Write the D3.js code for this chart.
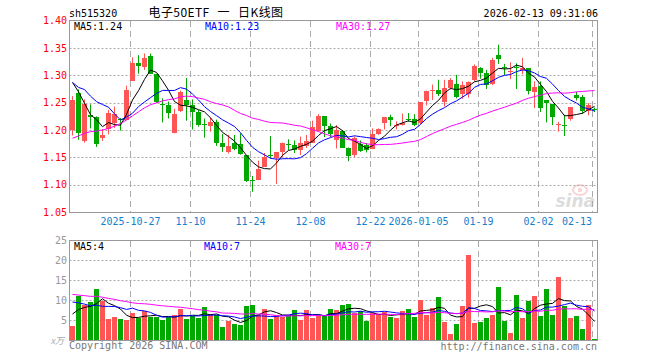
<!DOCTYPE html>
<html><head><meta charset="utf-8">
<script src="https://cdn.jsdelivr.net/npm/d3@7"></script>
<style>body{margin:0;background:#fff}svg{display:block}</style>
</head><body><svg id="c" width="660" height="360"></svg>
<script>
// ---------------- data ----------------
const dates = [
"2025-10-13","2025-10-14","2025-10-15","2025-10-16","2025-10-17","2025-10-20","2025-10-21","2025-10-22","2025-10-23","2025-10-24",
"2025-10-27","2025-10-28","2025-10-29","2025-10-30","2025-10-31","2025-11-03","2025-11-04","2025-11-05","2025-11-06","2025-11-07",
"2025-11-10","2025-11-11","2025-11-12","2025-11-13","2025-11-14","2025-11-17","2025-11-18","2025-11-19","2025-11-20","2025-11-21",
"2025-11-24","2025-11-25","2025-11-26","2025-11-27","2025-11-28","2025-12-01","2025-12-02","2025-12-03","2025-12-04","2025-12-05",
"2025-12-08","2025-12-09","2025-12-10","2025-12-11","2025-12-12","2025-12-15","2025-12-16","2025-12-17","2025-12-18","2025-12-19",
"2025-12-22","2025-12-23","2025-12-24","2025-12-25","2025-12-26","2025-12-29","2025-12-30","2025-12-31",
"2026-01-05","2026-01-06","2026-01-07","2026-01-08","2026-01-09","2026-01-12","2026-01-13","2026-01-14","2026-01-15","2026-01-16",
"2026-01-19","2026-01-20","2026-01-21","2026-01-22","2026-01-23","2026-01-26","2026-01-27","2026-01-28","2026-01-29","2026-01-30",
"2026-02-02","2026-02-03","2026-02-04","2026-02-05","2026-02-06","2026-02-09","2026-02-10","2026-02-11","2026-02-12","2026-02-13"];

const open = [
1.200,1.267,1.180,1.228,1.224,1.186,1.201,1.212,1.221,1.218,
1.290,1.323,1.316,1.336,1.302,1.248,1.246,1.195,1.234,1.255,
1.246,1.233,1.211,1.208,1.215,1.177,1.159,1.177,1.175,1.154,
1.108,1.109,1.133,1.155,1.149,1.159,1.175,1.173,1.163,1.171,
1.177,1.199,1.225,1.207,1.181,1.199,1.168,1.155,1.174,1.173,
1.165,1.193,1.212,1.223,1.208,1.209,1.221,1.220,
1.212,1.253,1.271,1.274,1.252,1.277,1.285,1.266,1.266,1.292,
1.314,1.305,1.285,1.338,1.315,1.306,1.316,1.309,1.313,1.270,
1.281,1.254,1.248,1.209,1.209,1.220,1.264,1.261,1.234,1.238];
const high = [
1.262,1.274,1.256,1.247,1.225,1.202,1.237,1.243,1.222,1.281,
1.333,1.337,1.340,1.340,1.303,1.258,1.252,1.239,1.272,1.295,
1.256,1.237,1.221,1.223,1.219,1.193,1.191,1.191,1.194,1.154,
1.116,1.144,1.158,1.189,1.160,1.177,1.183,1.181,1.188,1.191,
1.217,1.229,1.225,1.212,1.209,1.200,1.168,1.188,1.181,1.176,
1.203,1.203,1.224,1.228,1.216,1.230,1.231,1.229,
1.251,1.272,1.283,1.292,1.292,1.295,1.301,1.289,1.289,1.320,
1.315,1.310,1.332,1.356,1.321,1.324,1.322,1.332,1.313,1.289,
1.289,1.254,1.248,1.215,1.228,1.242,1.270,1.264,1.249,1.241];
const low = [
1.190,1.182,1.177,1.203,1.169,1.180,1.192,1.204,1.199,1.218,
1.290,1.303,1.310,1.303,1.250,1.214,1.221,1.194,1.233,1.217,
1.201,1.206,1.186,1.197,1.171,1.160,1.157,1.163,1.155,1.105,
1.087,1.108,1.133,1.148,1.101,1.151,1.163,1.158,1.154,1.167,
1.177,1.197,1.187,1.187,1.166,1.167,1.143,1.150,1.160,1.159,
1.165,1.191,1.201,1.207,1.201,1.208,1.215,1.207,
1.210,1.245,1.255,1.262,1.243,1.274,1.258,1.257,1.259,1.289,
1.294,1.275,1.282,1.321,1.300,1.293,1.275,1.302,1.265,1.240,
1.233,1.214,1.209,1.197,1.189,1.217,1.254,1.230,1.227,1.233];
const close = [
1.254,1.195,1.247,1.224,1.175,1.190,1.232,1.229,1.218,1.273,
1.323,1.317,1.332,1.303,1.252,1.246,1.231,1.229,1.269,1.246,
1.233,1.209,1.209,1.215,1.177,1.169,1.171,1.166,1.156,1.106,
1.107,1.128,1.150,1.153,1.160,1.177,1.173,1.163,1.177,1.179,
1.206,1.225,1.208,1.193,1.200,1.168,1.153,1.185,1.162,1.163,
1.193,1.201,1.224,1.218,1.210,1.213,1.219,1.209,
1.251,1.272,1.273,1.266,1.277,1.292,1.261,1.283,1.287,1.318,
1.305,1.282,1.329,1.330,1.313,1.308,1.314,1.313,1.272,1.278,
1.240,1.249,1.223,1.211,1.207,1.242,1.259,1.234,1.245,1.236];
const volume = [
3.5,11.0,8.7,9.5,12.75,9.7,5.3,5.75,5.2,5.0,
6.7,5.6,7.2,5.75,5.75,5.0,5.7,6.25,7.75,5.25,
6.0,5.5,8.25,6.6,6.2,3.25,4.75,4.0,3.75,8.6,
8.75,6.25,7.75,5.25,6.3,5.7,6.0,7.5,5.0,7.5,
5.6,6.2,5.9,7.75,7.5,8.75,9.0,6.7,7.2,4.75,
6.7,6.5,7.0,5.75,5.5,7.25,7.75,5.75,
10.0,6.25,8.1,10.75,4.5,1.5,4.0,8.5,21.25,4.25,
4.5,5.5,6.25,13.25,4.75,1.75,11.25,5.5,9.75,11.0,
6.0,12.75,6.25,15.75,8.5,5.5,6.0,2.75,8.75,0.25];
// estimated sessions before the first visible candle (needed for moving averages)
const priorCloses = [1.075,1.097,1.134,1.145,1.130,1.142,1.109,1.068,
  1.08,1.10,1.09,1.12,1.13,1.15,1.14,1.16,1.18,1.17,1.20,1.26,
  1.285,1.287,1.344,1.275,1.244,1.280,1.352,1.329,1.220];
const priorVolumes = [16,13,15,12,17,14,13,15,12,15.6,
  11,9,10,12,10,9,11,10,11.4,11,
  13,12,14,11,12.5,5.5,6.0,8.0,9.5];
const priceTicks = [1.05,1.10,1.15,1.20,1.25,1.30,1.35,1.40];
const volTicks = [5,10,15,20,25];
const xTickDates = ["2025-10-27","2025-11-10","2025-11-24","2025-12-08","2025-12-22","2026-01-05","2026-01-19","2026-02-02","2026-02-13"];
const xTickLabels = ["2025-10-27","11-10","11-24","12-08","12-22","2026-01-05","01-19","02-02","02-13"];
const maPeriods = [5,10,30];
const maColors = ["#000000","#0000ff","#ff00ff"];

// ---------------- drawing ----------------
const RED = "#ff5555", GREEN = "#00a800", GRID = "#aaaaaa", FRAME = "#999999";
const MONO = "'DejaVu Sans Mono', monospace";
const svg = d3.select("#c");
const L = 69.5, R = 597.5;
const x = d3.scaleBand().domain(dates).range([70, 597]).paddingInner(1/6).paddingOuter(0);
const y = d3.scaleLinear().domain([1.05, 1.40]).range([212, 20.7]);
const yv = d3.scaleLinear().domain([0, 25]).range([340, 240]);
const cx = d => Math.floor(x(d)) + 2.5;

function movingAvg(prior, vals, n) {
  const full = prior.concat(vals), off = prior.length;
  return vals.map((_, i) => d3.mean(full.slice(i + off - n + 1, i + off + 1)));
}

// watermark
const wm = svg.append("g").attr("opacity", 0.22);
wm.append("ellipse").attr("cx", 580).attr("cy", 190).attr("rx", 7).attr("ry", 5).attr("fill", "none").attr("stroke", "#e04040").attr("stroke-width", 2);
wm.append("circle").attr("cx", 580).attr("cy", 190).attr("r", 2.2).attr("fill", "#e04040");
wm.append("text").attr("x", 595).attr("y", 207).attr("text-anchor", "end").attr("font-family", "'DejaVu Sans', sans-serif")
  .attr("font-size", 17).attr("font-weight", "bold").attr("font-style", "italic").attr("fill", "#666").text("sina");

// grids
[[y, priceTicks.filter(v => v > 1.05 && v < 1.40)], [yv, volTicks.filter(v => v < 25)]].forEach(([s, ticks]) => {
  svg.append("g").selectAll("line").data(ticks).join("line")
    .attr("x1", L).attr("x2", R).attr("y1", d => Math.round(s(d)) + 0.5).attr("y2", d => Math.round(s(d)) + 0.5)
    .attr("stroke", GRID).attr("stroke-dasharray", "2,2");
});
[[21, 212], [241, 340]].forEach(([a, b]) => {
  svg.append("g").selectAll("line").data(xTickDates).join("line")
    .attr("x1", d => Math.floor(x(d)) + 0.5).attr("x2", d => Math.floor(x(d)) + 0.5)
    .attr("y1", a).attr("y2", b).attr("stroke", GRID).attr("stroke-dasharray", "6,4");
});

// frames
svg.append("rect").attr("x", L).attr("y", 20.5).attr("width", R - L).attr("height", 192).attr("fill", "none").attr("stroke", FRAME);
svg.append("rect").attr("x", L).attr("y", 240.5).attr("width", R - L).attr("height", 100).attr("fill", "none").attr("stroke", FRAME);

// candles
const up = i => close[i] >= open[i];
const cg = svg.append("g");
dates.forEach((d, i) => {
  const col = up(i) ? RED : GREEN;
  cg.append("line").attr("x1", cx(d)).attr("x2", cx(d)).attr("y1", y(high[i])).attr("y2", y(low[i])).attr("stroke", col);
  const t = y(Math.max(open[i], close[i])), b = y(Math.min(open[i], close[i]));
  cg.append("rect").attr("x", Math.floor(x(d))).attr("width", x.bandwidth())
    .attr("y", Math.round(t)).attr("height", Math.max(1, Math.round(b) - Math.round(t))).attr("fill", col);
});

// volume bars
svg.append("g").selectAll("rect").data(dates).join("rect")
  .attr("x", d => Math.floor(x(d))).attr("width", x.bandwidth())
  .attr("y", (d, i) => Math.round(yv(volume[i]))).attr("height", (d, i) => 340 - Math.round(yv(volume[i])))
  .attr("fill", (d, i) => up(i) ? RED : GREEN);

// moving averages
const priceMA = maPeriods.map(n => movingAvg(priorCloses, close, n));
const volMA = maPeriods.map(n => movingAvg(priorVolumes, volume, n));
[[priceMA, y], [volMA, yv]].forEach(([mas, s]) => {
  mas.forEach((m, k) => {
    svg.append("path").datum(m).attr("fill", "none").attr("stroke", maColors[k]).attr("stroke-width", 1)
      .attr("d", d3.line().x((v, i) => cx(dates[i])).y(v => s(v)));
  });
});

// axis labels
svg.append("g").selectAll("text").data(priceTicks).join("text")
  .attr("x", 67).attr("y", d => y(d) + 3.5).attr("text-anchor", "end")
  .attr("font-family", MONO).attr("font-size", 10).attr("fill", "#ff0000").text(d => d.toFixed(2));
svg.append("g").selectAll("text").data(volTicks).join("text")
  .attr("x", 67).attr("y", d => yv(d) + 3.5).attr("text-anchor", "end")
  .attr("font-family", MONO).attr("font-size", 10).attr("fill", "#999").text(d => d);
svg.append("text").attr("x", 64).attr("y", 344).attr("text-anchor", "end").attr("font-family", "'Noto Sans CJK SC', sans-serif")
  .attr("font-size", 9).attr("fill", "#aaa").attr("font-style", "italic").text("x万");
svg.append("g").selectAll("text").data(xTickDates).join("text")
  .attr("x", d => Math.floor(x(d)) + (d === dates[dates.length - 1] ? 0 : 0.5))
  .attr("y", 225).attr("text-anchor", d => d === dates[dates.length - 1] ? "end" : "middle")
  .attr("font-family", MONO).attr("font-size", 10).attr("fill", "#1580cc").text((d, i) => xTickLabels[i]);

// header
const txt = (xx, yy, s, opts = {}) => svg.append("text").attr("x", xx).attr("y", yy)
  .attr("font-family", opts.font || MONO).attr("font-size", opts.size || 10)
  .attr("fill", opts.fill || "#000").attr("text-anchor", opts.anchor || "start").text(s);
txt(69, 16.5, "sh515320");
txt(216, 17, "电子50ETF 一 日K线图", {font: "'Noto Sans CJK SC', sans-serif", size: 12, anchor: "middle"})
  .attr("word-spacing", 5).attr("letter-spacing", 0.4);
txt(598, 16.5, "2026-02-13 09:31:06", {anchor: "end"});
const priceLabelX = [74, 205, 336], volLabelX = [74, 204, 335];
maPeriods.forEach((n, k) => {
  const last = priceMA[k][priceMA[k].length - 1];
  txt(priceLabelX[k], 30, `MA${n}:${last.toFixed(2)}`, {fill: maColors[k]});
  const lv = volMA[k][volMA[k].length - 1];
  txt(volLabelX[k], 250, `MA${n}:${Math.floor(lv)}`, {fill: maColors[k]});
});
txt(69, 349, "Copyright 2026 SINA.COM", {fill: "#777"});
txt(597, 349.5, "http://finance.sina.com.cn", {fill: "#777", anchor: "end"});
</script></body></html>
